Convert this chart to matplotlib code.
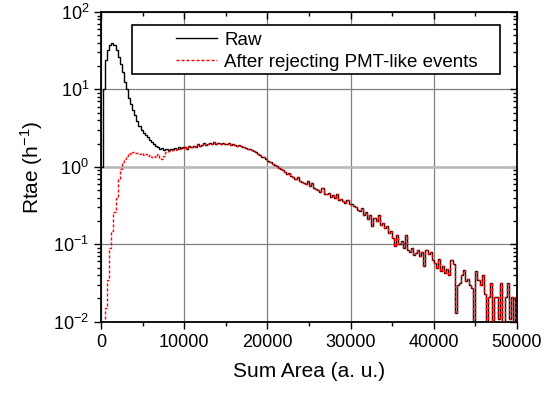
import numpy as np
import matplotlib
matplotlib.use("Agg")
import matplotlib.pyplot as plt
from matplotlib.patches import Rectangle
from matplotlib.ticker import LogLocator, MultipleLocator, NullFormatter

plt.rcParams["font.family"] = ["Liberation Sans", "DejaVu Sans"]
plt.rcParams["mathtext.fontset"] = "custom"
plt.rcParams["mathtext.rm"] = "Liberation Sans"

bin_width = 250
x_max = 50000

# rate per 250-unit bin, 0 - 10000
raw_head = [1.0, 10, 24, 32, 37, 39.5, 37.5, 32, 26, 21,
            17, 12.5, 10, 7.8, 6.5, 5.4, 4.7, 3.9, 3.4, 3.0,
            2.7, 2.55, 2.4, 2.25, 2.1, 2.0, 1.85, 1.78, 1.70, 1.75,
            1.65, 1.72, 1.66, 1.70, 1.68, 1.75, 1.70, 1.78, 1.74, 1.80]

rejected_head = [0, 0, 0.015, 0.035, 0.09, 0.15, 0.26, 0.40, 0.70, 0.95,
                 1.15, 1.28, 1.38, 1.50, 1.45, 1.55, 1.50, 1.52, 1.45, 1.50,
                 1.42, 1.46, 1.38, 1.44, 1.36, 1.40, 1.34, 1.45, 1.30, 1.28,
                 1.38, 1.55, 1.60, 1.62, 1.65, 1.70, 1.66, 1.72, 1.70, 1.75]

# 10000 - 50000, both selections agree here
tail = [1.80, 1.72, 1.85, 1.78, 1.88, 1.82, 1.95, 1.86,
        1.92, 2.02, 1.90, 1.98, 2.05, 1.96, 2.08, 1.97,
        2.06, 1.98, 2.04, 2.00, 1.95, 2.01, 1.92, 1.97,
        1.90, 1.88, 1.93, 1.84, 1.80, 1.76, 1.72, 1.68,
        1.63, 1.58, 1.55, 1.47, 1.42, 1.36, 1.33, 1.25,
        1.20, 1.16, 1.10, 1.05, 1.03, 0.97, 0.93, 0.90,
        0.85, 0.80, 0.83, 0.76, 0.73, 0.70, 0.74, 0.66,
        0.64, 0.62, 0.60, 0.66, 0.57, 0.61, 0.54, 0.52,
        0.50, 0.47, 0.53, 0.45, 0.44, 0.46, 0.41, 0.43,
        0.40, 0.44, 0.37, 0.38, 0.36, 0.34, 0.37, 0.33,
        0.33, 0.31, 0.30, 0.28, 0.27, 0.29, 0.24, 0.26,
        0.21, 0.24, 0.17, 0.22, 0.20, 0.24, 0.18, 0.19,
        0.16, 0.17, 0.14, 0.15, 0.12, 0.095, 0.13, 0.10,
        0.11, 0.09, 0.13, 0.085, 0.08, 0.09, 0.072, 0.078,
        0.085, 0.070, 0.08, 0.052, 0.085, 0.075, 0.08, 0.062,
        0.058, 0.050, 0.064, 0.045, 0.052, 0.042, 0.048, 0.040,
        0.062, 0.055, 0.013, 0.030, 0.032, 0.040, 0.046, 0.034,
        0.036, 0.030, 0.027, 0, 0.045, 0.035, 0.030, 0.040,
        0.023, 0, 0.021, 0.032, 0, 0.021, 0.021, 0.011,
        0.032, 0, 0.021, 0.032, 0.011, 0.021, 0, 0.021]

raw = np.array(raw_head + tail)
rejected = np.array(rejected_head + tail)
edges = np.arange(0, x_max + bin_width, bin_width)

fig = plt.figure(figsize=(5.5, 3.93), dpi=100)
ax = fig.add_axes([0.1836, 0.1814, 0.7564, 0.7881])

ax.stairs(raw, edges, color="black", lw=1.0, baseline=None, zorder=3)
ax.stairs(rejected, edges, color="red", lw=1.0, ls=(0, (2.2, 1.4)),
          baseline=None, zorder=3.1)

ax.set_yscale("log")
ax.set_xlim(0, x_max)
ax.set_ylim(1e-2, 1e2)

ax.xaxis.set_major_locator(MultipleLocator(10000))
ax.xaxis.set_minor_locator(MultipleLocator(5000))
ax.yaxis.set_major_locator(LogLocator(base=10, numticks=10))
ax.yaxis.set_minor_locator(LogLocator(base=10, subs=np.arange(2, 10), numticks=10))
ax.yaxis.set_minor_formatter(NullFormatter())

ax.set_axisbelow(True)
ax.grid(True, which="major", color="#808080", lw=0.9)
ax.axhline(1.0, color="#b8b8b8", lw=1.8, zorder=2)

ax.tick_params(which="both", top=True, right=True, labelsize=13, width=1.0,
               direction="out")
ax.tick_params(which="major", length=5)
ax.tick_params(which="minor", length=3)
# top and right ticks point inward
for t in ax.xaxis.get_major_ticks() + ax.xaxis.get_minor_ticks():
    t.tick2line.set_marker(3)
for t in ax.yaxis.get_major_ticks() + ax.yaxis.get_minor_ticks():
    t.tick2line.set_marker(0)
for s in ax.spines.values():
    s.set_linewidth(1.3)

ax.set_xlabel("Sum Area (a. u.)", fontsize=15, labelpad=8)
ax.set_ylabel("Rtae (h$^{-1}$)", fontsize=15, labelpad=6)

ax.add_patch(Rectangle((0.074, 0.80), 0.884, 0.158, transform=ax.transAxes,
                       facecolor="white", edgecolor="black", lw=1.2, zorder=4))
ax.legend(["Raw", "After rejecting PMT-like events"], loc="upper left",
          bbox_to_anchor=(0.148, 0.978), frameon=False, fontsize=13.5,
          handlelength=2.2, handletextpad=0.4, labelspacing=0.25,
          borderpad=0.2).set_zorder(5)

fig.savefig("out.png", dpi=100)
